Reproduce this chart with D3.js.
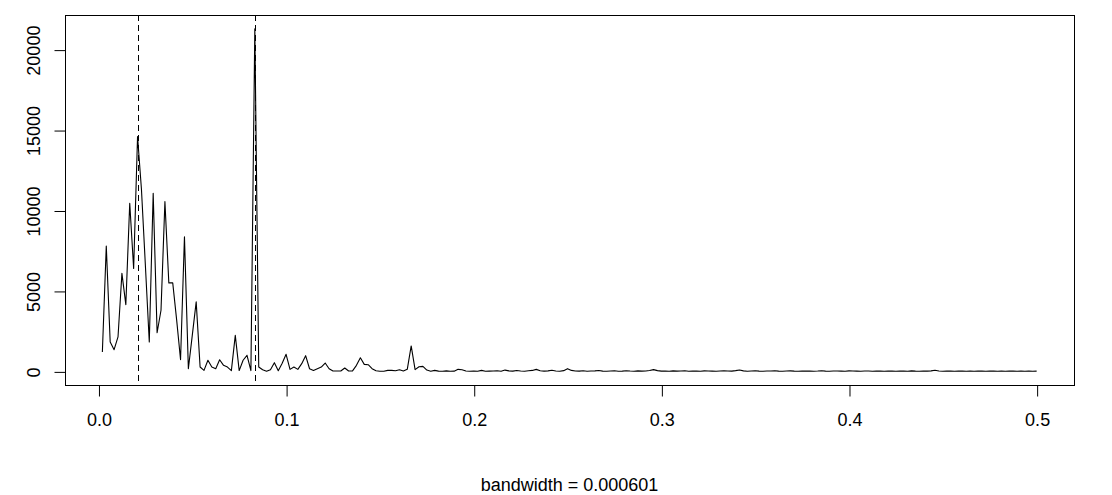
<!DOCTYPE html>
<html>
<head>
<meta charset="utf-8">
<script src="https://cdn.jsdelivr.net/npm/d3@7"></script>
<style>
  html, body { margin: 0; padding: 0; background: #fff; }
  svg text { font-family: "Liberation Sans", Arial, sans-serif; font-size: 18px; fill: #000; }
</style>
</head>
<body>
<svg id="chart" width="1112" height="495"></svg>
<script>
// Periodogram: n = 480, frequencies k/480, k = 1..240
const nObs = 480;
const spectrum = [
  1200, 7790, 1830, 1350, 2140, 6090, 4150, 10450, 6400, 14600,
  11300, 6600, 1830, 11070, 2400, 3800, 10550, 5500, 5500, 3200,
  725, 8370, 165, 2240, 4320, 270, 60, 690, 270, 165,
  725, 375, 270, 50, 2240, 50, 690, 1000, 50, 21300,
  270, 100, 10, 100, 540, 40, 500, 1060, 125, 270,
  125, 480, 975, 165, 60, 165, 270, 520, 165, 20,
  20, 20, 210, 20, 30, 375, 850, 435, 415, 165,
  40, 10, 10, 60, 60, 40, 100, 20, 125, 1580,
  110, 290, 310, 80, 10, 60, 15, 10, 30, 10,
  15, 125, 100, 25, 5, 15, 10, 60, 5, 15,
  20, 40, 10, 80, 30, 15, 50, 20, 10, 35,
  60, 125, 40, 15, 30, 70, 20, 10, 45, 170,
  60, 20, 15, 40, 10, 25, 30, 50, 15, 10,
  20, 35, 10, 15, 40, 20, 10, 30, 15, 25,
  50, 110, 45, 15, 20, 10, 30, 15, 20, 40,
  10, 15, 25, 10, 30, 20, 15, 10, 25, 40,
  20, 15, 45, 90, 30, 10, 20, 35, 15, 10,
  25, 20, 40, 15, 10, 20, 30, 15, 10, 20,
  15, 25, 10, 20, 40, 15, 10, 25, 20, 15,
  10, 30, 20, 15, 10, 20, 25, 10, 15, 20,
  10, 15, 25, 10, 20, 15, 10, 30, 15, 10,
  20, 15, 30, 70, 20, 10, 15, 20, 10, 15,
  20, 10, 15, 10, 20, 15, 10, 15, 20, 10,
  15, 10, 20, 15, 10, 15, 10, 20, 10, 15
];
const frequencies = spectrum.map((_, i) => (i + 1) / nObs);
const markerFreqs = [10 / nObs, 40 / nObs];
const xTickValues = [0, 0.1, 0.2, 0.3, 0.4, 0.5];
const yTickValues = [0, 5000, 10000, 15000, 20000];
const xLabel = "bandwidth = 0.000601";

const svg = d3.select("#chart");
const box = { left: 65, right: 1074, top: 15, bottom: 385 };

function padded(ext) {
  const p = (ext[1] - ext[0]) * 0.04;
  return [ext[0] - p, ext[1] + p];
}

const x = d3.scaleLinear()
  .domain(padded(d3.extent(frequencies)))
  .range([box.left, box.right]);
const y = d3.scaleLinear()
  .domain(padded(d3.extent(spectrum)))
  .range([box.bottom, box.top]);

// line
const data = spectrum.map((v, i) => [frequencies[i], v]);
svg.append("path")
  .datum(data)
  .attr("fill", "none")
  .attr("stroke", "#000")
  .attr("stroke-width", 1.1)
  .attr("stroke-linejoin", "round")
  .attr("d", d3.line().x(d => x(d[0])).y(d => y(d[1])));

// dashed markers
svg.selectAll("line.marker")
  .data(markerFreqs)
  .enter().append("line")
  .attr("class", "marker")
  .attr("x1", d => Math.round(x(d)) + 0.5)
  .attr("x2", d => Math.round(x(d)) + 0.5)
  .attr("y1", box.top)
  .attr("y2", box.bottom)
  .attr("stroke", "#000")
  .attr("stroke-width", 1)
  .attr("stroke-dasharray", "6,4");

// box
svg.append("rect")
  .attr("x", box.left + 0.5)
  .attr("y", box.top + 0.5)
  .attr("width", box.right - box.left)
  .attr("height", box.bottom - box.top)
  .attr("fill", "none")
  .attr("stroke", "#000")
  .attr("stroke-width", 1);

// x axis
const xAxis = d3.axisBottom(x)
  .tickValues(xTickValues)
  .tickFormat(d3.format(".1f"))
  .tickSize(11)
  .tickPadding(17);
const gx = svg.append("g")
  .attr("transform", `translate(0.5,${box.bottom + 0.5})`)
  .call(xAxis);
gx.select(".domain").remove();
gx.selectAll("text").style("font-size", "18px").attr("fill", "#000");
gx.selectAll("line").attr("stroke", "#000");

// y axis
const yAxis = d3.axisLeft(y)
  .tickValues(yTickValues)
  .tickSize(11)
  .tickFormat(d3.format("d"));
const gy = svg.append("g")
  .attr("transform", `translate(${box.left + 0.5},0.5)`)
  .call(yAxis);
gy.select(".domain").remove();
gy.selectAll("line").attr("stroke", "#000");
gy.selectAll("text")
  .attr("x", null).attr("dy", null)
  .attr("text-anchor", "middle")
  .attr("transform", "translate(-26,0) rotate(-90)")
  .attr("y", 0)
  .style("font-size", "18px")
  .attr("fill", "#000");

// x label
svg.append("text")
  .attr("x", (box.left + box.right) / 2)
  .attr("y", 491)
  .attr("text-anchor", "middle")
  .text(xLabel);
</script>
</body>
</html>
